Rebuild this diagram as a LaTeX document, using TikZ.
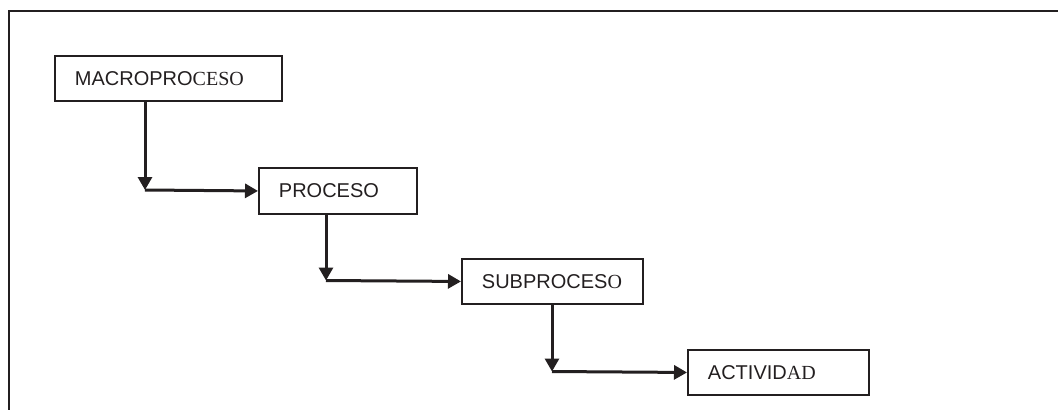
\documentclass[tikz,border=0pt]{standalone}
\usepackage{fontspec}
\setmainfont{Liberation Sans}
\newfontfamily\tailfont{Liberation Serif}
\usetikzlibrary{arrows.meta}
\definecolor{ink}{HTML}{231F20}
\tikzset{
  levelbox/.style={draw=ink, line width=1.9pt, rectangle, anchor=north west,
    inner xsep=20pt, inner ysep=0pt, align=left, text=ink,
    font=\fontsize{20}{24}\selectfont},
  conn/.style={draw=ink, line width=3pt,
    -{Triangle[length=13pt,width=14pt]}},
  frame/.style={draw=ink, line width=2pt}
}
\begin{document}
\begin{tikzpicture}[x=1pt, y=-1pt]
  \useasboundingbox (0,0) rectangle (1058,410);
  % outer frame (top and left edges)
  \draw[frame] (1058,11) -- (9,11) -- (9,410);

  % hierarchy levels
  \node[levelbox, text width=187pt, minimum height=45pt] (macro) at (54,55)
    {MACROPRO{\tailfont CESO}};
  \node[levelbox, text width=118pt, minimum height=46pt] (proc) at (258,167)
    {PROCESO};
  \node[levelbox, text width=141pt, minimum height=45pt] (sub) at (461,258)
    {SUBPROCES{\tailfont O}};
  \node[levelbox, text width=141pt, minimum height=45pt] (act) at (687,349)
    {ACTIVID{\tailfont AD}};

  % elbow points of the connectors
  \coordinate (k1) at (145,190);
  \coordinate (k2) at (326,280.5);
  \coordinate (k3) at (552,371.5);

  \draw[conn] (macro.south -| k1) -- (k1);
  \draw[conn] (k1) -- (proc.west);
  \draw[conn] (proc.south -| k2) -- (k2);
  \draw[conn] (k2) -- (sub.west);
  \draw[conn] (sub.south -| k3) -- (k3);
  \draw[conn] (k3) -- (act.west);
\end{tikzpicture}
\end{document}
